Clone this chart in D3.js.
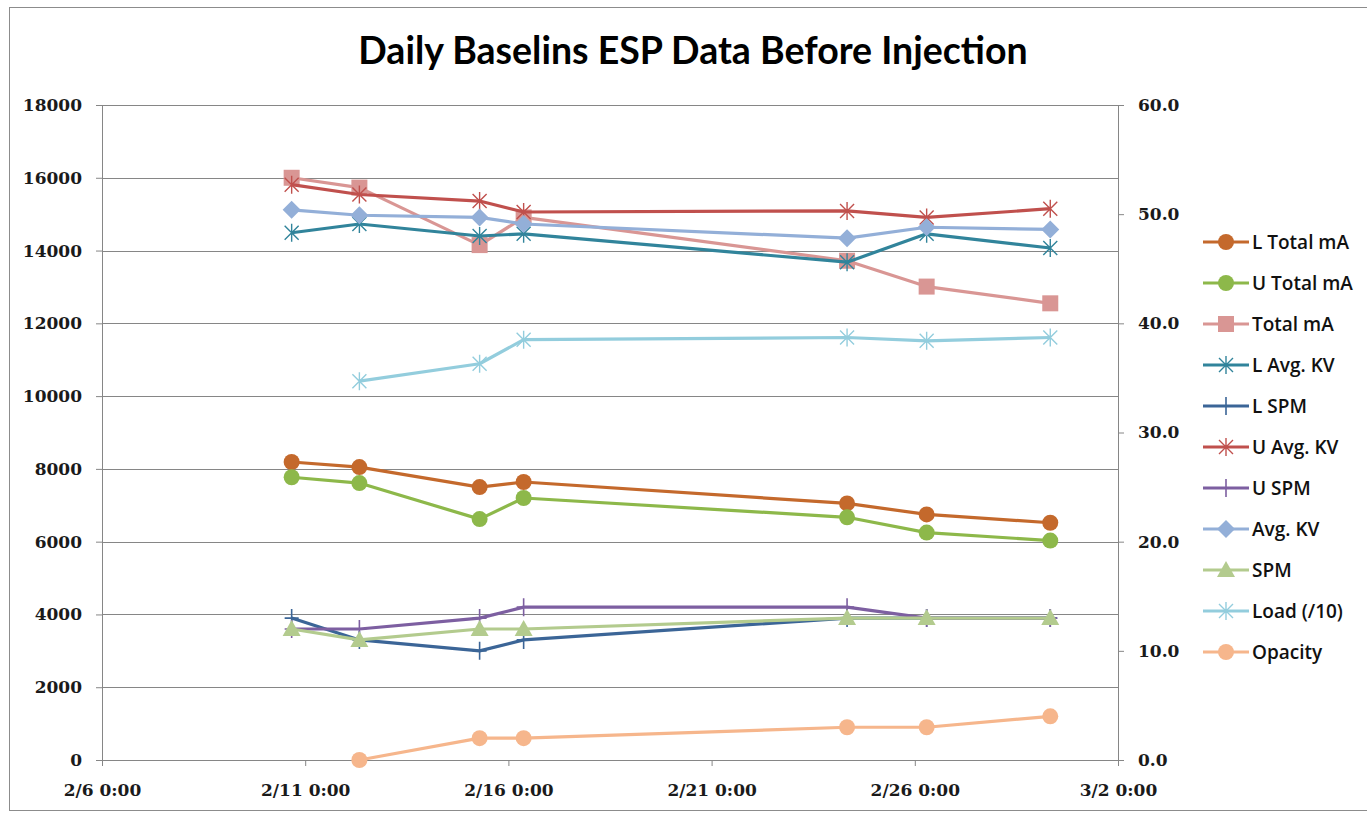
<!DOCTYPE html>
<html>
<head>
<meta charset="utf-8">
<script src="https://cdn.jsdelivr.net/npm/d3@7/dist/d3.min.js"></script>
<style>
body{margin:0;background:#fff;}
svg{display:block;}
.axis text{font-family:"DejaVu Serif",serif;font-size:17px;font-weight:bold;fill:#1a1a1a;}
.axis path,.axis line{stroke:#868686;}
</style>
</head>
<body>
<div id="canvas"></div>
<script>
// data
var dates = ["2012-02-10T16:00","2012-02-12T08:00","2012-02-15T07:00","2012-02-16T09:00",
             "2012-02-24T08:00","2012-02-26T07:00","2012-02-29T08:00"];
var xTicks = ["2012-02-06T00:00","2012-02-11T00:00","2012-02-16T00:00","2012-02-21T00:00",
              "2012-02-26T00:00","2012-03-02T00:00"];
var leftTicks = [0,2000,4000,6000,8000,10000,12000,14000,16000,18000];
var rightTicks = [0,10,20,30,40,50,60];

var lTotalMA = [8190, 8050, 7500, 7640, 7050, 6750, 6520];
var uTotalMA = [7770, 7610, 6620, 7200, 6670, 6250, 6030];
var totalMA  = [16000, 15730, 14150, 14910, 13720, 13010, 12550];
var lAvgKV   = [48.3, 49.1, 48.0, 48.2, 45.6, 48.2, 46.9];
var lSPM     = [13, 11, 10, 11, 13, 13, 13];
var uAvgKV   = [52.7, 51.8, 51.2, 50.2, 50.3, 49.7, 50.5];
var uSPM     = [12, 12, 13, 14, 14, 13, 13];
var avgKV    = [50.4, 49.9, 49.7, 49.1, 47.8, 48.8, 48.6];
var spm      = [12, 11, 12, 12, 13, 13, 13];
var load10   = [null, 34.7, 36.3, 38.5, 38.7, 38.4, 38.7];
var opacity  = [null, 0, 2, 2, 3, 3, 4];

var names   = ["L Total mA","U Total mA","Total mA","L Avg. KV","L SPM","U Avg. KV","U SPM","Avg. KV","SPM","Load (/10)","Opacity"];
var values  = [lTotalMA,uTotalMA,totalMA,lAvgKV,lSPM,uAvgKV,uSPM,avgKV,spm,load10,opacity];
var axisOf  = ["L","L","L","R","R","R","R","R","R","R","R"];
var colors  = ["#C4692C","#8DB84A","#D99694","#31849B","#3B6597","#C0504D","#7D5FA1","#93AFD8","#B3CB8E","#93CDDD","#F6B68C"];
var markers = ["circle","circle","square","star","plus","star","plus","diamond","triangle","star","circle"];

var W = 1367, H = 813;
var plotLeft = 102, plotRight = 1118, plotTop = 105, plotBottom = 760;

var parse = d3.timeParse("%Y-%m-%dT%H:%M");
var fmt = d3.timeFormat("%-m/%-d %-H:%M");

var svg = d3.select("#canvas").append("svg").attr("width",W).attr("height",H);

// chart border
svg.append("rect").attr("x",9.5).attr("y",7.5).attr("width",W+10).attr("height",803)
	.attr("fill","none").attr("stroke","#8c8c8c");

var x = d3.scaleTime().domain([parse(xTicks[0]),parse(xTicks[xTicks.length-1])]).range([plotLeft,plotRight]);
var yL = d3.scaleLinear().domain([0,18000]).range([plotBottom,plotTop]);
var yR = d3.scaleLinear().domain([0,60]).range([plotBottom,plotTop]);

// gridlines
svg.append("g").selectAll("line").data(leftTicks.slice(1)).join("line")
	.attr("x1",plotLeft).attr("x2",plotRight)
	.attr("y1",function(d){return Math.round(yL(d))+0.5;})
	.attr("y2",function(d){return Math.round(yL(d))+0.5;})
	.attr("stroke","#868686");

var ax = svg.append("g").attr("class","axis").attr("transform","translate(0,"+plotBottom+")")
	.call(d3.axisBottom(x).tickValues(xTicks.map(parse)).tickFormat(fmt).tickSize(6).tickSizeOuter(0));
ax.selectAll("text").attr("y",24).attr("dy","0.71em");

var al = svg.append("g").attr("class","axis").attr("transform","translate("+plotLeft+",0)")
	.call(d3.axisLeft(yL).tickValues(leftTicks).tickFormat(d3.format("d")).tickSize(6).tickSizeOuter(0));
al.selectAll("text").attr("x",-20);

var ar = svg.append("g").attr("class","axis").attr("transform","translate("+plotRight+",0)")
	.call(d3.axisRight(yR).tickValues(rightTicks).tickFormat(d3.format(".1f")).tickSize(6).tickSizeOuter(0));
ar.selectAll("text").attr("x",20);

// title
svg.append("text").attr("x",693).attr("y",64).attr("text-anchor","middle")
	.attr("font-family","Lato, sans-serif").attr("font-weight","bold").attr("font-size",37.5)
	.text("Daily Baselins ESP Data Before Injection");

// marker drawing
var drawMarker = function(g,type,color){
	if(type=="circle"){
		g.append("circle").attr("r",8).attr("fill",color);
	}else if(type=="square"){
		g.append("rect").attr("x",-8).attr("y",-8).attr("width",16).attr("height",16).attr("fill",color);
	}else if(type=="diamond"){
		g.append("path").attr("d","M0,-9L9,0L0,9L-9,0Z").attr("fill",color);
	}else if(type=="triangle"){
		g.append("path").attr("d","M0,-9L9,7L-9,7Z").attr("fill",color);
	}else if(type=="star"){
		g.append("path").attr("d","M-7,-7L7,7M-7,7L7,-7M0,-9L0,9")
			.attr("stroke",color).attr("stroke-width",1.4).attr("fill","none");
	}else if(type=="plus"){
		g.append("path").attr("d","M-7,0L7,0M0,-9L0,9")
			.attr("stroke",color).attr("stroke-width",1.6).attr("fill","none");
	}
};

var plot = svg.append("g");
names.forEach(function(name,i){
	var y = axisOf[i]=="L" ? yL : yR;
	var pts = dates.map(function(d,j){return {t:parse(d),v:values[i][j]};})
		.filter(function(p){return p.v!=null;});
	var line = d3.line().x(function(p){return x(p.t);}).y(function(p){return y(p.v);});
	var g = plot.append("g").attr("class","series");
	g.append("path").attr("d",line(pts)).attr("fill","none")
		.attr("stroke",colors[i]).attr("stroke-width",3.2).attr("stroke-linejoin","round");
	pts.forEach(function(p){
		var m = g.append("g").attr("transform","translate("+x(p.t)+","+y(p.v)+")");
		drawMarker(m,markers[i],colors[i]);
	});
});

// legend
var lg = svg.append("g");
names.forEach(function(name,i){
	var yy = 242 + i*41;
	var row = lg.append("g").attr("transform","translate(0,"+yy+")");
	row.append("line").attr("x1",1203).attr("x2",1249).attr("y1",0).attr("y2",0)
		.attr("stroke",colors[i]).attr("stroke-width",3.2);
	var m = row.append("g").attr("transform","translate(1226,0)");
	drawMarker(m,markers[i],colors[i]);
	row.append("text").attr("x",1252).attr("y",7).attr("font-family","'Open Sans', sans-serif")
		.attr("font-size",19).attr("font-weight",600).attr("fill","#111").text(name);
});
</script>
</body>
</html>
